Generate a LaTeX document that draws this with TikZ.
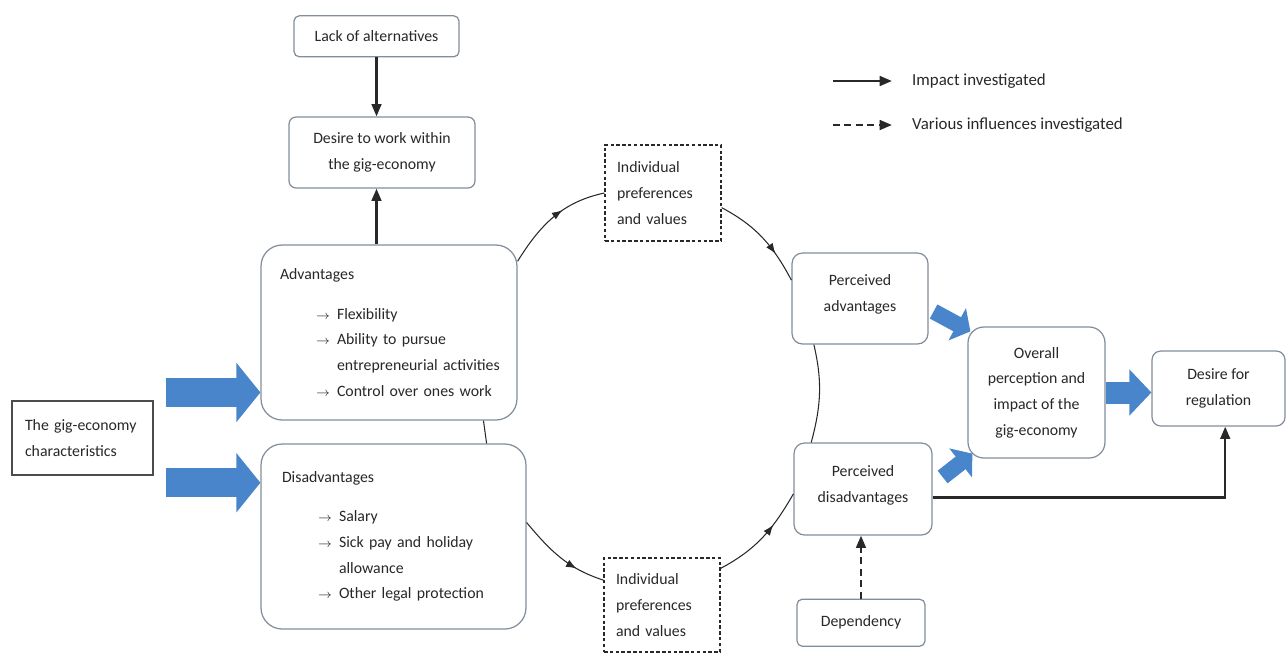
\documentclass[tikz,border=0pt]{standalone}
\usepackage{fontspec}
\setmainfont{Carlito}
\usetikzlibrary{positioning,arrows.meta,decorations.markings,calc}

\definecolor{boxgrey}{RGB}{130,142,155}
\definecolor{arrowblue}{RGB}{72,133,203}
\definecolor{inkgrey}{RGB}{40,40,40}

\newcommand{\arrowitem}[1]{\mbox{\hspace*{0.72cm}\makebox[0.42cm][l]{\scriptsize$\rightarrow$}#1}}
\newcommand{\arrowcont}[1]{\mbox{\hspace*{1.14cm}#1}}

\begin{document}
\begin{tikzpicture} [
x=0.02cm, y=0.02cm,
font=\fontsize{9}{14.6}\selectfont,
roundnode/.style={rectangle, draw=boxgrey, fill=white, line width=0.7pt, rounded corners=#1, inner sep=0pt, align=center, text=inkgrey},
roundnode/.default=5pt,
dashnode/.style={rectangle, draw=inkgrey, fill=white, line width=0.7pt, dash pattern=on 2pt off 1.3pt, inner sep=0pt, align=left, text=inkgrey},
framenode/.style={rectangle, draw=black!70, fill=white, line width=0.8pt, inner sep=0pt, align=left, text=inkgrey},
legendtext/.style={anchor=west, text=inkgrey, font=\fontsize{9.6}{12}\selectfont},
circline/.style={inkgrey, line width=0.6pt},
midarrow/.style={circline, postaction={decorate}, decoration={markings, mark=at position #1 with {\arrow{Latex[length=6pt,width=4.5pt]}}}},
impact/.style={inkgrey, line width=1.4pt, -{Triangle[length=7pt,width=5.5pt]}},
influence/.style={impact, dash pattern=on 4pt off 2.5pt},
bigarrow/.style={arrowblue, line width=0.58cm, -{Triangle[length=0.48cm,width=1.16cm]}},
medarrow/.style={arrowblue, line width=0.44cm, -{Triangle[length=0.44cm,width=0.9cm]}},
smallarrow/.style={arrowblue, line width=0.32cm, -{Triangle[length=0.3cm,width=0.72cm]}},
]
\useasboundingbox (0,0) rectangle (1286,-654);

%Nodes
\node[roundnode=4pt, minimum width=3.72cm, minimum height=1.42cm] (desire) at (382,-152.5) {Desire to work within\\the gig-economy};
\node[roundnode=3pt, minimum width=3.3cm, minimum height=0.82cm] (lack) [above=1.18cm of desire, xshift=-0.11cm] {Lack of alternatives};
\node[roundnode=12pt, minimum width=5.12cm, minimum height=3.5cm, text width=4.36cm, align=left] (adv) at (389,-332.5)
  {Advantages\\[0.28cm] \arrowitem{Flexibility}\\ \arrowitem{Ability to pursue}\\ \arrowcont{entrepreneurial activities}\\ \arrowitem{Control over ones work}};
\node[roundnode=12pt, minimum width=5.3cm, minimum height=3.7cm, text width=4.46cm, align=left] (dis) at (393.5,-536.5)
  {Disadvantages\\[0.28cm] \arrowitem{Salary}\\ \arrowitem{Sick pay and holiday}\\ \arrowcont{allowance}\\ \arrowitem{Other legal protection}};
\node[framenode, minimum width=2.82cm, minimum height=1.48cm, text width=2.3cm] (gig) at (82.5,-438) {The gig-economy\\characteristics};
\node[dashnode, minimum width=2.32cm, minimum height=1.92cm, text width=1.84cm] (iptop) at (663,-193) {Individual\\preferences\\and values};
\node[dashnode, minimum width=2.32cm, minimum height=1.88cm, text width=1.84cm] (ipbot) at (662,-605) {Individual\\preferences\\and values};
\node[roundnode=6pt, minimum width=2.72cm, minimum height=1.82cm] (padv) at (860,-298.5) {Perceived\\advantages\\[-0.3cm]};
\node[roundnode=6pt, minimum width=2.76cm, minimum height=1.84cm] (pdis) at (863,-489) {Perceived\\disadvantages\\[-0.3cm]};
\node[roundnode=3pt, minimum width=2.56cm, minimum height=0.94cm] (depend) [below=1.26cm of pdis, xshift=-0.04cm] {Dependency};
\node[roundnode=9pt, minimum width=2.74cm, minimum height=2.62cm] (overall) at (1036.5,-392.5) {Overall\\perception and\\impact of the\\gig-economy};
\node[roundnode=5pt, minimum width=2.66cm, minimum height=1.5cm] (regul) at (1218.5,-388.5) {Desire for\\regulation};

%Legend
\node[legendtext] (leginfo) at (906,-81) {Impact investigated};
\node[legendtext] (legvar) at (906,-125) {Various influences investigated};
\coordinate (infostart) at (833,-81);
\coordinate (varstart) at (833,-125);

%Lines
\draw[impact] (lack.south) -- (lack.south |- desire.north);
\draw[impact] (adv.north -| lack.south) -- (desire.south -| lack.south);
\draw[midarrow=0.6] (adv.29) to[out=58,in=192] (iptop.west);
\draw[midarrow=0.7] (iptop.-14) to[out=-28,in=118] (padv.165);
\draw[circline] (padv.-135) to[out=-77,in=75] (pdis.138);
\draw[midarrow=0.65] (ipbot.32) to[out=28,in=240] (pdis.184);
\draw[midarrow=0.7] (dis.6) to[out=-50,in=162] (ipbot.157);
\draw[circline] (adv.-43) -- (dis.45);
\draw[influence] (depend.north) -- (depend.north |- pdis.south);
\draw[impact] (pdis.-7) -| (regul.-80);
\draw[impact] (infostart) -- ([xshift=-0.28cm]leginfo.west);
\draw[influence] (varstart) -- ([xshift=-0.28cm]legvar.west);

%Block arrows
\draw[bigarrow] ($(gig.east |- adv.205)+(12,0)$) -- (adv.205);
\draw[bigarrow] ($(gig.east |- dis.158)+(12,0)$) -- (dis.158);
\draw[smallarrow] ($(padv.east)+(5,-13)$) -- ($(overall.north west)+(3,-5)$);
\draw[smallarrow] ($(pdis.east)+(10,12)$) -- ($(overall.south west)+(5,5)$);
\draw[medarrow] (overall.east) -- (overall.east -| regul.west);

\end{tikzpicture}
\end{document}
